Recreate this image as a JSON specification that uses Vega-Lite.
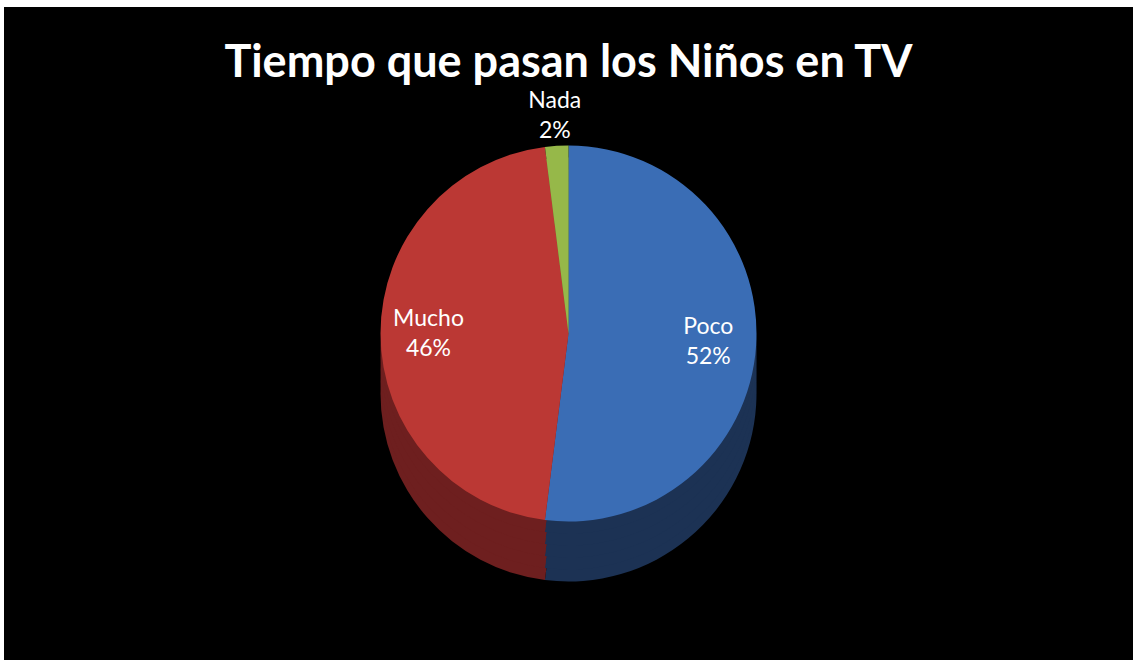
{
  "$schema": "https://vega.github.io/schema/vega-lite/v6.json",
  "autosize": {"type": "fit", "contains": "padding"},
  "width": 1135,
  "height": 661,
  "padding": {"top": 7, "left": 4, "right": 2, "bottom": 1},
  "background": "white",
  "view": {"fill": "black", "stroke": null},
  "config": {"view": {"fill": "black", "stroke": null}},
  "title": {
    "text": "Tiempo que pasan los Niños en TV",
    "color": "white",
    "font": "Lato",
    "fontSize": 45,
    "fontWeight": "bold",
    "anchor": "middle",
    "baseline": "top",
    "offset": -79
  },
  "data": {
    "values": [
      {"cat": "Poco", "pct": 0.52, "ord": 1},
      {"cat": "Mucho", "pct": 0.46, "ord": 2},
      {"cat": "Nada", "pct": 0.02, "ord": 3}
    ]
  },
  "encoding": {
    "theta": {"field": "pct", "type": "quantitative", "stack": true},
    "order": {"field": "ord", "type": "quantitative"}
  },
  "layer": [
    {"mark": {"type": "arc", "outerRadius": 188, "yOffset": 60}, "encoding": {"fill": {"field": "cat", "type": "nominal", "legend": null, "scale": {"domain": ["Poco", "Mucho", "Nada"], "range": ["#1c3254", "#6e1f1f", "#5f7a2e"]}}}},
    {"mark": {"type": "arc", "outerRadius": 188, "yOffset": 48}, "encoding": {"fill": {"field": "cat", "type": "nominal", "legend": null}}},
    {"mark": {"type": "arc", "outerRadius": 188, "yOffset": 36}, "encoding": {"fill": {"field": "cat", "type": "nominal", "legend": null}}},
    {"mark": {"type": "arc", "outerRadius": 188, "yOffset": 24}, "encoding": {"fill": {"field": "cat", "type": "nominal", "legend": null}}},
    {"mark": {"type": "arc", "outerRadius": 188, "yOffset": 12}, "encoding": {"fill": {"field": "cat", "type": "nominal", "legend": null}}},
    {
      "mark": {"type": "arc", "outerRadius": 188},
      "encoding": {
        "color": {"field": "cat", "type": "nominal", "legend": null, "scale": {"domain": ["Poco", "Mucho", "Nada"], "range": ["#3a6db5", "#bb3834", "#96b849"]}}
      }
    },
    {
      "mark": {"type": "text", "radius": 140, "dy": -15, "font": "Lato", "fontSize": 23, "fill": "white"},
      "encoding": {"text": {"field": "cat"}, "opacity": {"condition": {"test": "datum.cat == 'Nada'", "value": 0}, "value": 1}}
    },
    {
      "mark": {"type": "text", "radius": 140, "dy": 15, "font": "Lato", "fontSize": 23, "fill": "white"},
      "encoding": {"text": {"field": "pct", "format": ".0%"}, "opacity": {"condition": {"test": "datum.cat == 'Nada'", "value": 0}, "value": 1}}
    },
    {
      "mark": {"type": "text", "radius": 218, "dy": -15, "font": "Lato", "fontSize": 23, "fill": "white"},
      "encoding": {"text": {"field": "cat"}, "opacity": {"condition": {"test": "datum.cat == 'Nada'", "value": 1}, "value": 0}}
    },
    {
      "mark": {"type": "text", "radius": 218, "dy": 15, "font": "Lato", "fontSize": 23, "fill": "white"},
      "encoding": {"text": {"field": "pct", "format": ".0%"}, "opacity": {"condition": {"test": "datum.cat == 'Nada'", "value": 1}, "value": 0}}
    }
  ]
}
